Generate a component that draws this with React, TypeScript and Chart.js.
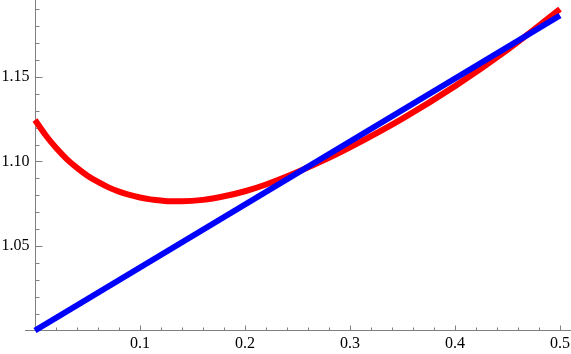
import React, { useEffect, useRef } from "react";
import { Chart, registerables } from "chart.js";

Chart.register(...registerables);

// Red curve samples (x, y)
const redX = [0, 0.01, 0.02, 0.03, 0.04, 0.05, 0.06, 0.07, 0.08, 0.09, 0.1, 0.11, 0.12, 0.13, 0.14, 0.16, 0.18, 0.2, 0.22, 0.25, 0.28, 0.3, 0.35, 0.4, 0.45, 0.5];
const redY = [1.1246, 1.1157, 1.1081, 1.1016, 1.0962, 1.0916, 1.0879, 1.0847, 1.0822, 1.0802, 1.0787, 1.0776, 1.0769, 1.0765, 1.0765, 1.0773, 1.0794, 1.0824, 1.0864, 1.0938, 1.1022, 1.1084, 1.1254, 1.1446, 1.1661, 1.1901];

// Blue straight line (x, y)
const blueX = [0, 0.5];
const blueY = [1.0, 1.1864];

// Axes
const xMajorTicks = [0.1, 0.2, 0.3, 0.4, 0.5];
const xTickLabels = ["0.1", "0.2", "0.3", "0.4", "0.5"];
const yMajorTicks = [1.05, 1.1, 1.15];
const yTickLabels = ["1.05", "1.10", "1.15"];
const xMinorStep = 0.02;
const yMinorStep = 0.01;
const xRange = [-0.00381, 0.5105];
const xAxisStart = -0.0095;
const yRange = [1.0, 1.19556];
const xOrigin = 0;
const yOrigin = 1.0;

const AXIS_COLOR = "#808080";

const axesPlugin = {
  id: "mmaAxes",
  beforeDatasetsDraw(chart: any) {
    const { ctx, chartArea } = chart;
    const xs = chart.scales.x;
    const ys = chart.scales.y;
    const x0 = Math.round(xs.getPixelForValue(xOrigin)) + 0.5;
    const y0 = Math.floor(ys.getPixelForValue(yOrigin)) + 0.5;
    ctx.save();
    ctx.strokeStyle = AXIS_COLOR;
    ctx.lineWidth = 1;
    ctx.beginPath();
    ctx.moveTo(xs.getPixelForValue(xAxisStart), y0);
    ctx.lineTo(chartArea.right, y0);
    ctx.moveTo(x0, chartArea.top);
    ctx.lineTo(x0, y0);
    for (let i = 1; i * xMinorStep <= xRange[1] + 1e-9; i++) {
      const v = i * xMinorStep;
      const major = xMajorTicks.some((m) => Math.abs(m - v) < 1e-9);
      const px = Math.round(xs.getPixelForValue(v)) + 0.5;
      ctx.moveTo(px, y0);
      ctx.lineTo(px, y0 - (major ? 5 : 3));
    }
    for (let i = 1; yOrigin + i * yMinorStep <= yRange[1] + 1e-9; i++) {
      const v = yOrigin + i * yMinorStep;
      const major = yMajorTicks.some((m) => Math.abs(m - v) < 1e-9);
      const py = Math.round(ys.getPixelForValue(v)) + 0.5;
      ctx.moveTo(x0, py);
      ctx.lineTo(x0 + (major ? 7 : 4), py);
    }
    ctx.stroke();
    ctx.restore();
  },
};

export default function App() {
  const ref = useRef<HTMLCanvasElement | null>(null);

  useEffect(() => {
    if (!ref.current) return;
    const font = { family: "'Liberation Serif', 'Times New Roman', serif", size: 16 };
    const chart = new Chart(ref.current, {
      type: "line",
      data: {
        datasets: [
          {
            label: "line",
            data: blueX.map((x, i) => ({ x, y: blueY[i] })),
            borderColor: "#0000ff",
            borderWidth: 6,
            pointRadius: 0,
            fill: false,
            clip: false as any,
            order: 0,
          },
          {
            label: "curve",
            data: redX.map((x, i) => ({ x, y: redY[i] })),
            borderColor: "#ff0000",
            borderWidth: 6,
            pointRadius: 0,
            fill: false,
            cubicInterpolationMode: "monotone",
            clip: false as any,
            order: 1,
          },
        ],
      },
      options: {
        animation: false,
        responsive: false,
        events: [],
        layout: { padding: 0 },
        plugins: { legend: { display: false }, tooltip: { enabled: false }, title: { display: false } },
        scales: {
          x: {
            type: "linear",
            position: "bottom",
            min: xRange[0],
            max: xRange[1],
            grid: { display: false, drawTicks: false },
            border: { display: false },
            afterBuildTicks: (s: any) => {
              s.ticks = xMajorTicks.map((v) => ({ value: v }));
            },
            afterFit: (s: any) => {
              s.height = 23.5;
              s.paddingLeft = 0;
              s.paddingRight = 0;
              s.paddingTop = 0;
              s.paddingBottom = 0;
            },
            ticks: {
              font,
              color: "#000000",
              padding: 4,
              maxRotation: 0,
              autoSkip: false,
              callback: (v: any) => {
                const idx = xMajorTicks.findIndex((m) => Math.abs(m - Number(v)) < 1e-9);
                return idx >= 0 ? xTickLabels[idx] : "";
              },
            },
          },
          y: {
            type: "linear",
            position: "left",
            min: yRange[0],
            max: yRange[1],
            grid: { display: false, drawTicks: false },
            border: { display: false },
            afterBuildTicks: (s: any) => {
              s.ticks = yMajorTicks.map((v) => ({ value: v }));
            },
            afterFit: (s: any) => {
              s.width = 31;
              s.paddingLeft = 0;
              s.paddingRight = 0;
              s.paddingTop = 0;
              s.paddingBottom = 0;
            },
            ticks: {
              font,
              color: "#000000",
              padding: 1.5,
              autoSkip: false,
              callback: (v: any) => {
                const idx = yMajorTicks.findIndex((m) => Math.abs(m - Number(v)) < 1e-9);
                return idx >= 0 ? yTickLabels[idx] : "";
              },
            },
          },
        },
      },
      plugins: [axesPlugin],
    } as any);
    return () => chart.destroy();
  }, []);

  return (
    <div style={{ position: "absolute", left: 0, top: 0, width: 571, height: 354, background: "#ffffff" }}>
      <canvas ref={ref} width={571} height={354} style={{ display: "block" }} />
    </div>
  );
}
